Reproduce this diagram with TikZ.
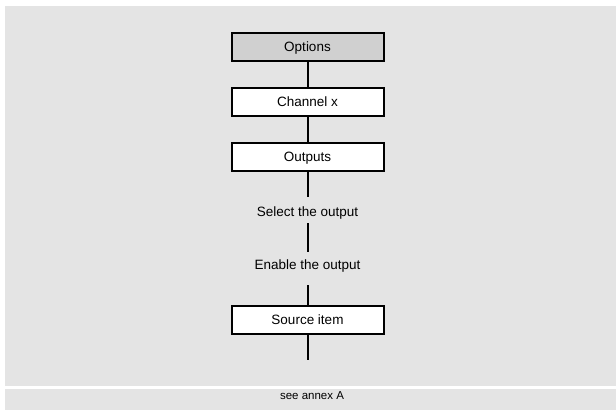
\documentclass[tikz,border=0pt]{standalone}
\usepackage{fontspec}
\setmainfont{Liberation Sans}
\definecolor{panel}{HTML}{E4E4E4}
\definecolor{hdr}{HTML}{D0D0D0}
\begin{document}
\begin{tikzpicture}[x=1pt,y=-1pt,
  box/.style={draw=black,line width=2pt,fill=white,minimum width=152pt,minimum height=28pt,inner sep=0pt,
    font=\fontsize{13.5}{16}\selectfont,text height=9.7pt,text depth=0pt,anchor=center},
  conn/.style={draw=black,line width=2pt},
  lbl/.style={inner sep=0pt,font=\fontsize{13.5}{16}\selectfont,anchor=base}]
\useasboundingbox (0,0) rectangle (616,410);
\fill[panel] (5,6) rectangle (616,385.5);
\fill[panel] (5,389) rectangle (616,410);
\node[box,fill=hdr] (opt) at (307.5,47) {Options};
\node[box] (chan) at (307.5,102) {Channel x};
\node[box] (outs) at (307.5,156.5) {Outputs};
\node[lbl,text height=19pt,text depth=7pt] (sel) at (307.5,216) {Select the output};
\node[lbl,text height=17.3pt,text depth=15.7pt] (ena) at (307.5,269.3) {Enable the output};
\node[box] (src) at (307.5,319.5) {Source item};
\coordinate (end) at (307.5,360);
\node[inner sep=0pt,anchor=base,font=\fontsize{11.5}{14}\selectfont] (foot) at (312,399.5) {see annex A};
\draw[conn] (opt.south) -- (chan.north);
\draw[conn] (chan.south) -- (outs.north);
\draw[conn] (outs.south) -- (sel.north);
\draw[conn] (sel.south) -- (ena.north);
\draw[conn] (ena.south) -- (src.north);
\draw[conn] (src.south) -- (end);
\end{tikzpicture}
\end{document}
